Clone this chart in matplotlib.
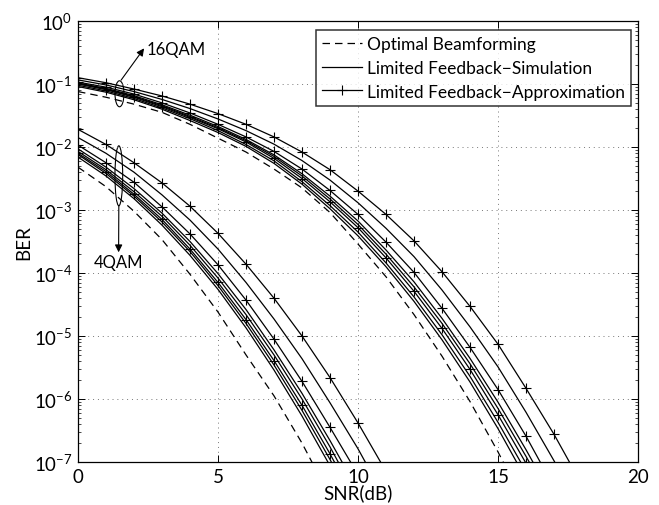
import matplotlib
matplotlib.use('Agg')
import matplotlib.pyplot as plt
from matplotlib.patches import Ellipse
from matplotlib.lines import Line2D
import matplotlib.ticker as mticker
import numpy as np

plt.rcParams.update({
    'font.family': ['Lato', 'DejaVu Sans'],
    'mathtext.fontset': 'custom',
    'mathtext.rm': 'Lato',
    'mathtext.default': 'regular',
    'font.size': 12,
    'axes.linewidth': 0.9,
})

# SNR grid (dB), one point per dB as in the original sweep
snr = list(range(0, 21))

# log10(BER) — 4QAM
opt_4qam = [-2.32, -2.63, -3.02, -3.47, -4.02, -4.62, -5.30, -5.95, -6.70, -7.55]
sim_4qam = [
    [-1.85, -2.10, -2.40, -2.76, -3.16, -3.62, -4.15, -4.73, -5.36, -6.06, -6.79, -7.60],
    [-2.03, -2.32, -2.66, -3.05, -3.50, -4.01, -4.58, -5.22, -5.91, -6.66, -7.45],
    [-2.07, -2.36, -2.71, -3.10, -3.56, -4.08, -4.66, -5.30, -6.00, -6.76, -7.58],
    [-2.12, -2.42, -2.78, -3.19, -3.66, -4.20, -4.80, -5.46, -6.18, -6.96, -7.80],
    [-2.16, -2.46, -2.82, -3.24, -3.72, -4.26, -4.87, -5.54, -6.27, -7.06],
]
apx_4qam = [
    [-1.72, -1.96, -2.25, -2.57, -2.94, -3.37, -3.86, -4.40, -5.00, -5.66, -6.38, -7.15],
    [-1.97, -2.25, -2.56, -2.95, -3.38, -3.87, -4.43, -5.05, -5.72, -6.45, -7.20],
    [-2.10, -2.39, -2.75, -3.15, -3.62, -4.15, -4.74, -5.39, -6.10, -6.87, -7.70],
]

# log10(BER) — 16QAM
opt_16qam = [-1.12, -1.21, -1.32, -1.45, -1.64, -1.86, -2.08, -2.35, -2.65, -3.04,
             -3.54, -4.06, -4.66, -5.32, -6.04, -6.84, -7.70]
sim_16qam = [
    [-0.935, -1.015, -1.12, -1.245, -1.39, -1.555, -1.74, -1.955, -2.215, -2.525,
     -2.885, -3.29, -3.74, -4.27, -4.855, -5.49, -6.21, -6.98, -7.80],
    [-0.985, -1.07, -1.185, -1.33, -1.495, -1.675, -1.88, -2.125, -2.425, -2.78,
     -3.175, -3.635, -4.14, -4.72, -5.355, -6.05, -6.805, -7.60],
    [-0.99, -1.08, -1.20, -1.345, -1.515, -1.695, -1.90, -2.15, -2.46, -2.825,
     -3.23, -3.70, -4.22, -4.80, -5.44, -6.15, -6.91, -7.70],
    [-1.02, -1.11, -1.23, -1.38, -1.55, -1.74, -1.96, -2.22, -2.55, -2.93,
     -3.35, -3.84, -4.38, -4.98, -5.64, -6.37, -7.15],
    [-1.04, -1.13, -1.25, -1.40, -1.58, -1.77, -1.99, -2.26, -2.59, -2.98,
     -3.41, -3.90, -4.45, -5.06, -5.73, -6.47, -7.27],
]
apx_16qam = [
    [-0.90, -0.98, -1.08, -1.19, -1.32, -1.47, -1.64, -1.84, -2.08, -2.36,
     -2.70, -3.07, -3.49, -3.98, -4.53, -5.13, -5.83, -6.56, -7.36],
    [-0.97, -1.05, -1.16, -1.30, -1.46, -1.64, -1.84, -2.07, -2.35, -2.69,
     -3.07, -3.51, -3.99, -4.56, -5.18, -5.85, -6.59, -7.40],
    [-1.00, -1.09, -1.21, -1.36, -1.53, -1.71, -1.92, -2.18, -2.50, -2.87,
     -3.28, -3.76, -4.29, -4.88, -5.53, -6.25, -7.02, -7.80],
]

legend_labels = ['Optimal Beamforming', 'Limited Feedback\u2212Simulation',
                 'Limited Feedback\u2212Approximation']

W, H = 659, 506
fig = plt.figure(figsize=(W / 100, H / 100), dpi=100)
ax = fig.add_axes([78 / W, (H - 463) / H, 560 / W, 441 / H])

LW = 0.9


def draw(vals, **kw):
    x = snr[:len(vals)]
    ax.semilogy(x, 10.0 ** np.array(vals), color='k', lw=LW, **kw)


for opt, sims, apxs in [(opt_4qam, sim_4qam, apx_4qam), (opt_16qam, sim_16qam, apx_16qam)]:
    draw(opt, ls=(0, (6, 4)))
    for s in sims:
        draw(s, ls='-')
    for a in apxs:
        draw(a, ls='-', marker='+', ms=7, mew=0.8)

ax.set_xlim(0, 20)
ax.set_ylim(1e-7, 1)
ax.set_xticks([0, 5, 10, 15, 20])
ax.yaxis.set_major_locator(mticker.FixedLocator([10.0 ** k for k in range(-7, 1)]))
ax.yaxis.set_minor_locator(mticker.LogLocator(base=10, subs=np.arange(2, 10), numticks=20))
ax.yaxis.set_minor_formatter(mticker.NullFormatter())
ax.tick_params(which='both', direction='in', top=True, right=True, labelsize=13.5)
ax.tick_params(which='major', length=5, width=0.7, pad=4)
ax.tick_params(which='minor', length=2.5, width=0.5)
ax.grid(True, which='major', ls=(0, (1, 4)), color='#777777', lw=0.7)

ax.set_xlabel('SNR(dB)', fontsize=13.5, labelpad=-1)
ax.set_ylabel('BER', fontsize=13.5, labelpad=1)

handles = [
    Line2D([], [], color='k', lw=LW, ls=(0, (6, 4))),
    Line2D([], [], color='k', lw=LW, ls='-'),
    Line2D([], [], color='k', lw=LW, ls='-', marker='+', ms=7, mew=0.8),
]
leg = ax.legend(handles, legend_labels, loc='upper right', bbox_to_anchor=(0.988, 0.98),
                fontsize=12.5, frameon=True, fancybox=False, handlelength=2.3,
                handletextpad=0.3, labelspacing=0.45, borderpad=0.35, borderaxespad=0)
leg.get_frame().set_edgecolor('k')
leg.get_frame().set_linewidth(1.1)

# 16QAM marker: ellipse + arrow + label
ax.add_patch(Ellipse((0.0741, 0.835), 0.016, 0.059, transform=ax.transAxes,
                     fill=False, color='k', lw=0.8))
ax.annotate('', xy=(0.118, 0.938), xytext=(0.077, 0.866), xycoords='axes fraction',
            arrowprops=dict(arrowstyle='-|>', color='k', lw=0.8, mutation_scale=11,
                            shrinkA=0, shrinkB=0))
ax.text(0.123, 0.9365, '16QAM', transform=ax.transAxes, ha='left', va='center', fontsize=12)

# 4QAM marker
ax.add_patch(Ellipse((0.0729, 0.649), 0.0138, 0.136, transform=ax.transAxes,
                     fill=False, color='k', lw=0.8))
ax.annotate('', xy=(0.0725, 0.4755), xytext=(0.0729, 0.581), xycoords='axes fraction',
            arrowprops=dict(arrowstyle='-|>', color='k', lw=0.8, mutation_scale=11,
                            shrinkA=0, shrinkB=0))
ax.text(0.072, 0.454, '4QAM', transform=ax.transAxes, ha='center', va='center', fontsize=12)

fig.savefig('out.png', dpi=100)
